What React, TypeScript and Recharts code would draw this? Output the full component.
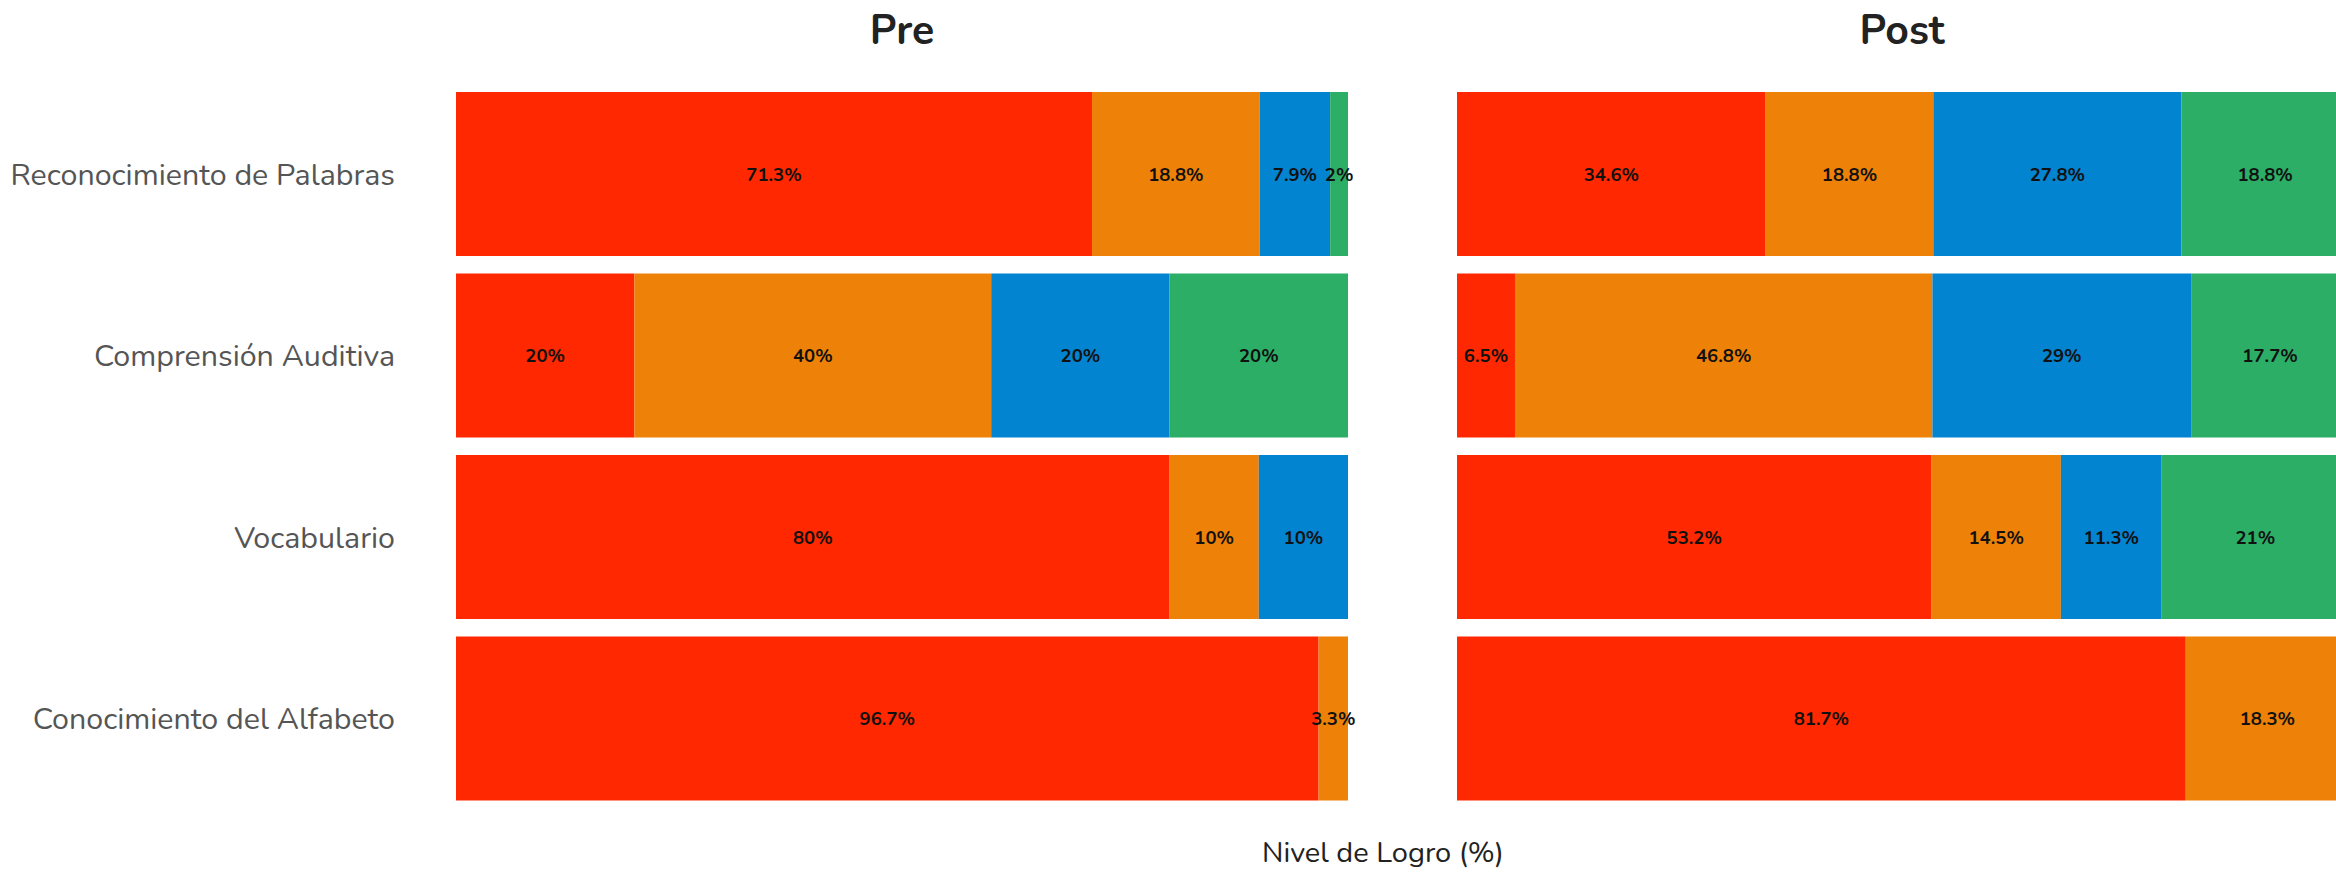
import { BarChart, Bar, XAxis, YAxis, LabelList } from 'recharts';

// Categorías (de arriba hacia abajo)
const categories = [
  'Reconocimiento de Palabras',
  'Comprensión Auditiva',
  'Vocabulario',
  'Conocimiento del Alfabeto',
];

// Niveles de logro (%) - Pre
const preNivel1 = [71.3, 20, 80, 96.7];
const preNivel2 = [18.8, 40, 10, 3.3];
const preNivel3 = [7.9, 20, 10, 0];
const preNivel4 = [2, 20, 0, 0];

// Niveles de logro (%) - Post
const postNivel1 = [34.6, 6.5, 53.2, 81.7];
const postNivel2 = [18.8, 46.8, 14.5, 18.3];
const postNivel3 = [27.8, 29, 11.3, 0];
const postNivel4 = [18.8, 17.7, 21, 0];

const panelTitles = ['Pre', 'Post'];
const axisTitle = 'Nivel de Logro (%)';

const levelKeys = ['n1', 'n2', 'n3', 'n4'];
const levelColors = ['#FF2800', '#EE8108', '#0384D1', '#2CAE67'];

const FONT = 'Nunito, Lato, "Open Sans", sans-serif';

function buildRows(series: number[][]) {
  return categories.map((name, i) => {
    const row: Record<string, string | number> = { name };
    levelKeys.forEach((k, j) => {
      row[k] = series[j][i];
    });
    return row;
  });
}

const preData = buildRows([preNivel1, preNivel2, preNivel3, preNivel4]);
const postData = buildRows([postNivel1, postNivel2, postNivel3, postNivel4]);

const fmt = (v: any) => (Number(v) > 0 ? `${v}%` : '');

function Panel({ data, width, margin, showAxis }: { data: any[]; width: number; margin: any; showAxis: boolean }) {
  return (
    <BarChart
      width={width}
      height={876}
      data={data}
      layout="vertical"
      margin={margin}
      barCategoryGap={9}
    >
      <XAxis type="number" domain={[0, 100]} hide />
      <YAxis
        type="category"
        dataKey="name"
        width={456}
        hide={!showAxis}
        axisLine={false}
        tickLine={false}
        tickSize={0}
        tickMargin={61}
        tick={{ fill: '#555', fontSize: 30.4, fontFamily: FONT }}
      />
      {levelKeys.map((k, j) => (
        <Bar key={k} dataKey={k} stackId="a" fill={levelColors[j]} isAnimationActive={false}>
          <LabelList
            dataKey={k}
            position="center"
            formatter={fmt}
            style={{ fill: '#111', fontSize: 18.5, fontWeight: 700, fontFamily: FONT }}
          />
        </Bar>
      ))}
    </BarChart>
  );
}

export default function App() {
  return (
    <div
      style={{
        position: 'absolute',
        left: 0,
        top: 0,
        width: 2336,
        height: 876,
        overflow: 'hidden',
        background: '#fff',
        fontFamily: FONT,
      }}
    >
      <div style={{ position: 'absolute', left: 0, top: 0 }}>
        <Panel data={preData} width={1400} margin={{ top: 83, right: 52, bottom: 67, left: 0 }} showAxis />
      </div>
      <div style={{ position: 'absolute', left: 1400, top: 0 }}>
        <Panel data={postData} width={950} margin={{ top: 83, right: 1, bottom: 67, left: 57 }} showAxis={false} />
      </div>
      <div
        style={{
          position: 'absolute',
          left: 702,
          width: 400,
          top: 3,
          textAlign: 'center',
          fontSize: 41,
          fontWeight: 700,
          color: '#222',
        }}
      >
        {panelTitles[0]}
      </div>
      <div
        style={{
          position: 'absolute',
          left: 1702,
          width: 400,
          top: 3,
          textAlign: 'center',
          fontSize: 41,
          fontWeight: 700,
          color: '#222',
        }}
      >
        {panelTitles[1]}
      </div>
      <div
        style={{
          position: 'absolute',
          left: 1083,
          width: 600,
          top: 838,
          lineHeight: '29px',
          textAlign: 'center',
          fontSize: 29,
          color: '#222',
        }}
      >
        {axisTitle}
      </div>
    </div>
  );
}
